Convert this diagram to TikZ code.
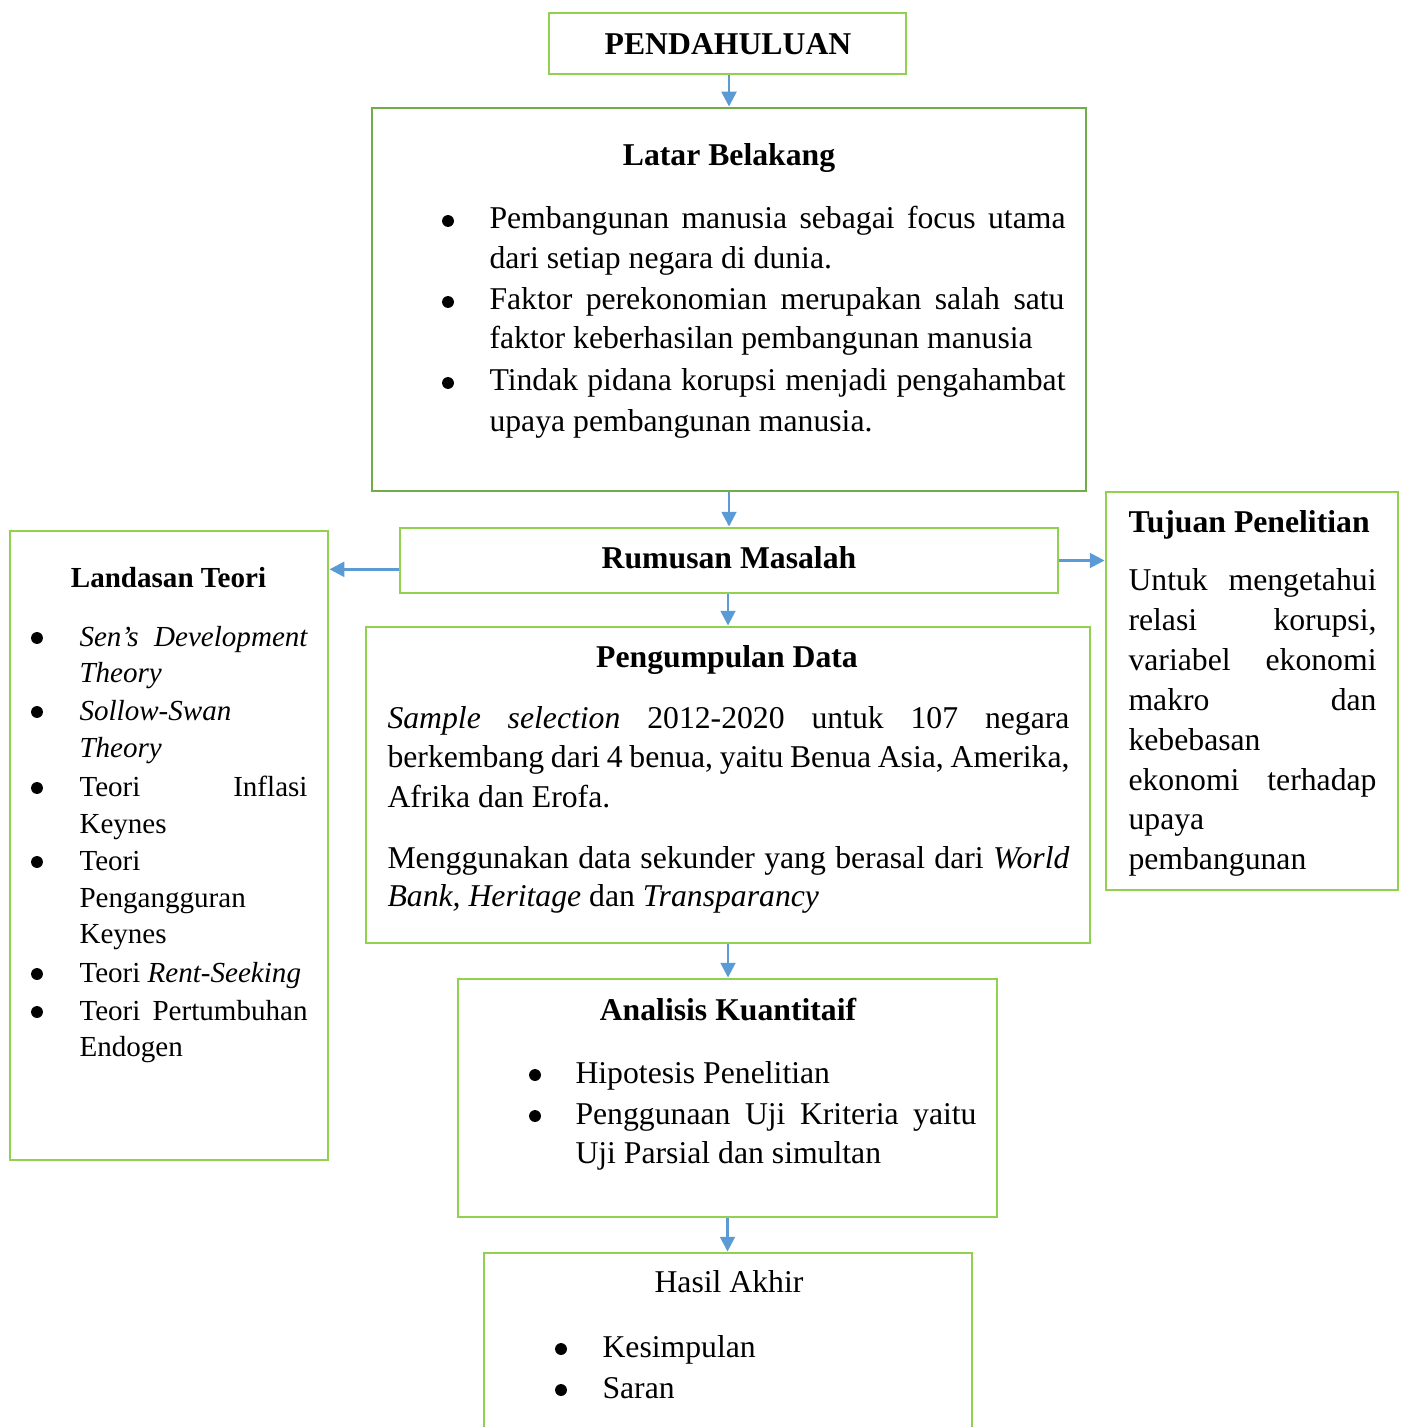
\documentclass[tikz,border=0pt]{standalone}
\usepackage{fontspec}
\setmainfont{Liberation Serif}
\usetikzlibrary{arrows.meta,calc}
\newlength\upx
\setlength\upx{0.3785pt}
\definecolor{boxgreen}{RGB}{146,208,80}
\definecolor{darkgreen}{RGB}{112,173,71}
\definecolor{arrowblue}{RGB}{91,155,213}
\newcommand\mkbox[6]{\node[#2, minimum width={(#5-#3)*\upx}, minimum height={(#6-#4)*\upx}] (#1) at ({(#3+#5)/2},{(#4+#6)/2}) {};}
\newcommand\tline[4]{\node[txt] (#1) at (#2,#3) {#4};}
\newcommand\jline[5]{\node[txt] (#1) at (#2,#3) {\makebox[#4\upx][s]{#5}};}
\newcommand\sline[4]{\node[stxt] (#1) at (#2,#3) {#4};}
\newcommand\sjline[5]{\node[stxt] (#1) at (#2,#3) {\makebox[#4\upx][s]{#5}};}
\newcommand\ttline[4]{\node[ttl] (#1) at (#2,#3) {#4};}
\newcommand\bul[2]{\fill[black] (#1,#2-8) circle[radius=2.25pt];}
\begin{document}
\begin{tikzpicture}[x=0.3785pt,y=-0.3785pt,
  box/.style={draw=boxgreen, line width=1.1pt, inner sep=0pt, rectangle},
  lbox/.style={draw=darkgreen, line width=1.1pt, inner sep=0pt, rectangle},
  txt/.style={inner sep=0pt, anchor=base west, font=\fontsize{12}{14}\selectfont},
  stxt/.style={inner sep=0pt, anchor=base west, font=\fontsize{11}{13}\selectfont},
  ttl/.style={inner sep=0pt, anchor=base, font=\fontsize{12}{14}\selectfont\bfseries},
  arr/.style={draw=arrowblue, line width=1pt, -{Triangle[length=5.6pt,width=5.6pt]}}]
\useasboundingbox (0,0) rectangle (1405,1427);
\clip (0,0) rectangle (1405,1427);
% boxes
\mkbox{pd}{box}{549}{13}{906}{74}
\mkbox{lb}{lbox}{372}{108}{1086}{491}
\mkbox{rm}{box}{400}{528}{1058}{593}
\mkbox{tj}{box}{1106}{492}{1398}{890}
\mkbox{ld}{box}{10}{531}{328}{1160}
\mkbox{pg}{box}{366}{627}{1090}{943}
\mkbox{ak}{box}{458}{979}{997}{1217}
\mkbox{ha}{box}{484}{1253}{972}{1470}
% PENDAHULUAN
\ttline{tpd}{728}{55}{PENDAHULUAN}
% Latar Belakang
\ttline{tlb}{729}{166}{Latar Belakang}
\bul{448}{229}\bul{448}{310}\bul{448}{391}
\jline{lb1}{489}{229}{576}{Pembangunan manusia sebagai focus utama}
\tline{lb2}{489}{269}{dari setiap negara di dunia.}
\jline{lb3}{489}{310}{575}{Faktor perekonomian merupakan salah satu}
\tline{lb4}{489}{349}{faktor keberhasilan pembangunan manusia}
\jline{lb5}{489}{391}{576}{Tindak pidana korupsi menjadi pengahambat}
\tline{lb6}{489}{431}{upaya pembangunan manusia.}
% Rumusan Masalah
\ttline{trm}{729}{568}{Rumusan Masalah}
% Landasan Teori (11pt)
\node[ttl, font=\fontsize{11}{13}\selectfont\bfseries] (tld) at (168.5,587) {Landasan Teori};
\bul{37}{646}\bul{37}{720}\bul{37}{796}\bul{37}{870}\bul{37}{982}\bul{37}{1020}
\sjline{ld1}{79}{646}{228}{\itshape Sen’s Development}
\sline{ld2}{79}{682}{\itshape Theory}
\sline{ld3}{79}{720}{\itshape Sollow-Swan}
\sline{ld4}{79}{757}{\itshape Theory}
\sjline{ld5}{79}{796}{228}{Teori Inflasi}
\sline{ld6}{79}{833}{Keynes}
\sline{ld7}{79}{870}{Teori}
\sline{ld8}{79}{907}{Pengangguran}
\sline{ld9}{79}{943}{Keynes}
\sline{ld10}{79}{982}{Teori \textit{Rent-Seeking}}
\sjline{ld11}{79}{1020}{228}{Teori Pertumbuhan}
\sline{ld12}{79}{1056}{Endogen}
% Tujuan Penelitian
\node[txt, font=\fontsize{12}{14}\selectfont\bfseries] (ttj) at (1128,532) {Tujuan Penelitian};
\jline{tj1}{1128}{590}{248}{Untuk mengetahui}
\jline{tj2}{1128}{630}{248}{relasi korupsi,}
\jline{tj3}{1128}{670}{248}{variabel ekonomi}
\jline{tj4}{1128}{710}{248}{makro dan}
\tline{tj5}{1128}{750}{kebebasan}
\jline{tj6}{1128}{790}{248}{ekonomi terhadap}
\tline{tj7}{1128}{829}{upaya}
\tline{tj8}{1128}{869}{pembangunan}
% Pengumpulan Data
\ttline{tpg}{727}{667}{Pengumpulan Data}
\jline{pg1}{387}{728}{682}{\textit{Sample selection} 2012-2020 untuk 107 negara}
\jline{pg2}{387}{767}{682}{berkembang dari 4 benua, yaitu Benua Asia, Amerika,}
\tline{pg3}{387}{807}{Afrika dan Erofa.}
\jline{pg4}{387}{868}{682}{Menggunakan data sekunder yang berasal dari \textit{World}}
\tline{pg5}{387}{906}{\textit{Bank, Heritage} dan \textit{Transparancy}}
% Analisis Kuantitaif
\ttline{tak}{728}{1020}{Analisis Kuantitaif}
\bul{535}{1083}\bul{535}{1124}
\tline{ak1}{575}{1083}{Hipotesis Penelitian}
\jline{ak2}{575}{1124}{401}{Penggunaan Uji Kriteria yaitu}
\tline{ak3}{575}{1163}{Uji Parsial dan simultan}
% Hasil Akhir
\node[txt, anchor=base] (tha) at (729,1292) {Hasil Akhir};
\bul{561}{1357}\bul{561}{1398}
\tline{ha1}{602}{1357}{Kesimpulan}
\tline{ha2}{602}{1398}{Saran}
% connectors
\draw[arr] (lb.north |- pd.south) -- (lb.north);
\draw[arr] (lb.south) -- (rm.north);
\coordinate (rmw) at ($(rm.south west)!0.37!(rm.north west)$);
\draw[arr] (rmw) -- (rmw -| ld.east);
\draw[arr] (rm.east) -- (rm.east -| tj.west);
\draw[arr] (rm.south -| pg.north) -- (pg.north);
\draw[arr] (pg.south) -- (pg.south |- ak.north);
\draw[arr] (ak.south) -- (ak.south |- ha.north);
\end{tikzpicture}
\end{document}
